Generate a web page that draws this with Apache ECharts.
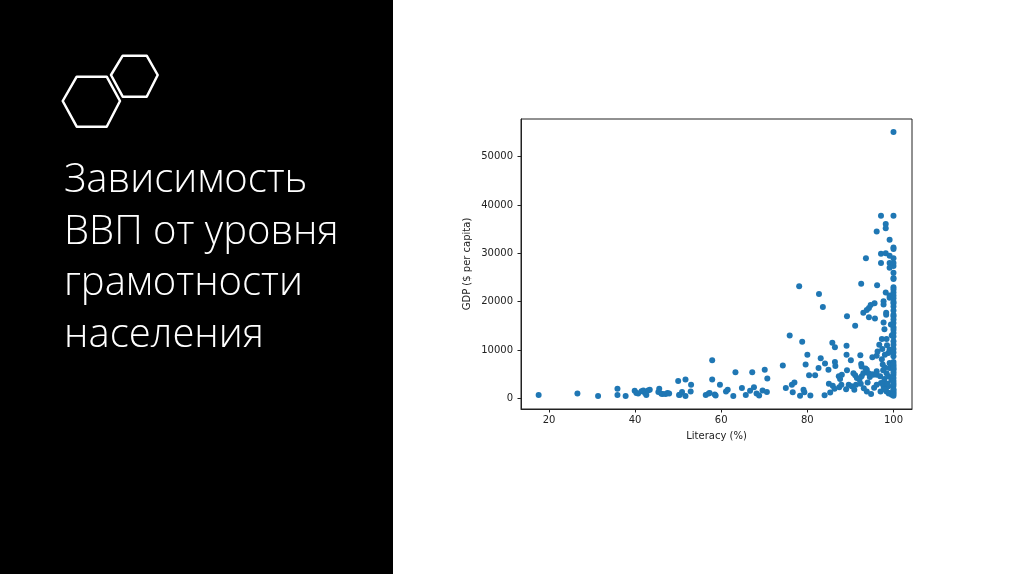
<!DOCTYPE html>
<html>
<head>
<meta charset="utf-8">
<script src="https://cdn.jsdelivr.net/npm/echarts@6/dist/echarts.min.js"></script>
<style>
html,body{margin:0;padding:0;background:#fff;}
#chart{width:1024px;height:574px;}
</style>
</head>
<body>
<div id="chart"></div>
<script>
// Literacy (%) values, paired with GDP ($ per capita) values below
const literacy = [
17.6,26.6,31.4,35.9,35.9,37.8,39.9,40.3,40.7,41.5,41.9,42.3,42.6,43.0,43.4,45.4,45.6,46.1,46.4,47.1,47.5,47.9,
50.0,50.2,50.4,50.9,51.7,51.7,52.9,53.0,56.4,57.1,57.3,57.9,57.9,58.5,58.7,59.7,61.1,61.5,62.8,63.3,64.8,65.7,
66.7,67.2,67.6,68.2,68.8,69.6,70.1,70.6,70.7,
74.3,75.0,75.9,76.4,77.0,76.6,78.1,78.3,78.8,79.1,79.3,79.6,80.0,80.4,80.7,81.8,82.6,82.7,83.1,83.6,84.0,84.1,
84.9,85.0,85.3,85.8,85.9,86.4,86.4,86.5,86.3,87.3,87.4,87.6,87.9,88.0,89.0,89.1,89.1,89.2,89.2,89.6,90.1,90.3,
90.7,90.9,91.1,91.1,91.5,91.3,92.1,92.3,92.4,92.5,92.5,92.6,92.6,93.0,93.0,93.1,93.6,93.8,93.8,93.8,94.2,94.3,
94.3,94.7,95.1,95.3,95.6,95.7,93.5,94.5,94.0,95.0,95.5,94.8,
96.1,96.1,96.1,96.1,96.1,96.2,96.3,96.7,96.9,97.0,97.1,97.1,97.1,97.1,97.3,97.3,97.4,97.7,97.7,97.7,97.7,97.7,
97.9,97.9,98.2,98.2,98.2,98.2,98.3,98.3,98.4,98.4,98.4,98.8,98.8,98.8,99.1,99.1,99.1,99.1,99.1,99.1,99.1,99.1,
99.1,99.1,99.6,
98.5,98.0,97.5,98.0,97.6,98.6,97.8,98.9,99.5,99.4,99.3,99.6,99.4,
100,100,100,100,100,100,100,100,100,100,100,100,100,100,100,100,100,100,100,100,100,100,100,100,100,100,100,100,
100,100,
100,100,100,100,100,100,100,100,100,100,100,100,100,100,100,100,100,100
];
const gdp = [
700,1000,500,2000,700,500,1600,1100,1000,1450,1650,1100,700,1650,1800,1300,2000,960,900,900,1100,1000,
3600,700,760,1300,3900,500,1400,2800,700,1000,1100,7900,3900,800,600,2800,1400,1800,500,5400,2150,700,
1600,5400,2300,1000,600,1650,5900,1300,4100,
6800,2150,13000,2800,3300,1250,23200,560,11700,1800,1250,7000,9000,4760,600,4760,6300,21600,8300,18900,650,7200,
5900,3000,1200,11500,2600,10600,7500,6700,2000,4600,2300,4000,2800,4900,1900,10900,9000,17000,5800,2800,7900,2500,
5200,1800,15000,4800,4200,2800,3900,8900,3000,23700,7100,6600,4600,5200,17700,2100,29000,18300,5900,1400,5200,18700,
16800,19300,8500,4900,19700,16500,6200,4400,3300,5000,2200,900,
34500,8800,5600,4900,2800,23400,9700,11100,4600,1400,37800,29900,28000,3200,12300,8100,10200,20100,19400,15700,3300,2500,
14300,4000,36100,35200,30000,21900,17700,17300,12300,5200,1400,9400,4600,2500,32800,29500,28000,27000,21300,20800,10100,7300,
6300,1100,760,
11000,9000,7000,6400,5800,3000,1900,1000,3800,6900,9900,13000,15300,
55100,37800,31200,30900,29000,27400,24900,24700,21900,21300,20700,19700,19000,17300,17000,15600,13500,12800,11800,11100,10200,8700,6600,5900,
4900,4200,2600,1900,1200,550,
28000,26000,23000,22500,20000,18200,16300,14700,14200,9500,7500,7000,6200,5400,3600,3100,1600,900
];
const xTicks = [20, 40, 60, 80, 100];
const yTicks = [0, 10000, 20000, 30000, 40000, 50000];
const xName = 'Literacy (%)';
const yName = 'GDP ($ per capita)';
const titleLines = ['Зависимость', 'ВВП от уровня', 'грамотности', 'населения'];

const points = literacy.map((v, i) => [v, gdp[i]]);

const chart = echarts.init(document.getElementById('chart'), null, {renderer: 'canvas'});
const axisFont = {fontFamily: 'DejaVu Sans', fontSize: 10, color: '#222'};

const hexBig = [[62.7,101],[76.7,76.7],[106.7,76.7],[120,101],[106.7,126.7],[76.7,126.7]];
const hexSmall = [[111,75],[122.7,55.7],[146.7,55.7],[157.7,75],[146.7,96.7],[122.7,96.7]];

const titleGraphics = titleLines.map((t, i) => ({
  type: 'text', left: 64, top: 161 + i * 51.5, z: 10,
  style: {text: t, fill: '#fff', fontFamily: 'Open Sans', fontWeight: 300, fontSize: 40}
}));

chart.setOption({
  animation: false,
  backgroundColor: '#fff',
  graphic: [
    {type: 'rect', shape: {x: 0, y: 0, width: 393, height: 574}, style: {fill: '#000'}, z: 1},
    {type: 'polygon', shape: {points: hexBig}, style: {fill: 'none', stroke: '#fff', lineWidth: 2.5, lineJoin: 'round'}, z: 5},
    {type: 'polygon', shape: {points: hexSmall}, style: {fill: 'none', stroke: '#fff', lineWidth: 2.5, lineJoin: 'round'}, z: 5}
  ].concat(titleGraphics),
  grid: {left: 521, top: 119, width: 391, height: 290, show: true, borderColor: '#222', borderWidth: 1, backgroundColor: 'transparent'},
  xAxis: {
    type: 'value', min: 13.5, max: 104.3,
    name: xName, nameLocation: 'middle', nameGap: 22,
    nameTextStyle: axisFont,
    axisLine: {show: true, onZero: false, lineStyle: {color: '#222', width: 1}},
    axisTick: {show: true, length: 3.5, customValues: xTicks, lineStyle: {color: '#222'}},
    axisLabel: Object.assign({margin: 6, customValues: xTicks, formatter: v => String(v)}, axisFont),
    splitLine: {show: false}
  },
  yAxis: {
    type: 'value', min: -2200, max: 57800,
    name: yName, nameLocation: 'middle', nameGap: 49, nameRotate: 90,
    nameTextStyle: axisFont,
    axisLine: {show: true, onZero: false, lineStyle: {color: '#222', width: 1}},
    axisTick: {show: true, length: 3.5, customValues: yTicks, lineStyle: {color: '#222'}},
    axisLabel: Object.assign({margin: 8, customValues: yTicks, formatter: v => String(v)}, axisFont),
    splitLine: {show: false}
  },
  series: [{
    type: 'scatter',
    data: points,
    symbolSize: 6,
    itemStyle: {color: '#1f77b4', opacity: 1}
  }]
});
</script>
</body>
</html>
